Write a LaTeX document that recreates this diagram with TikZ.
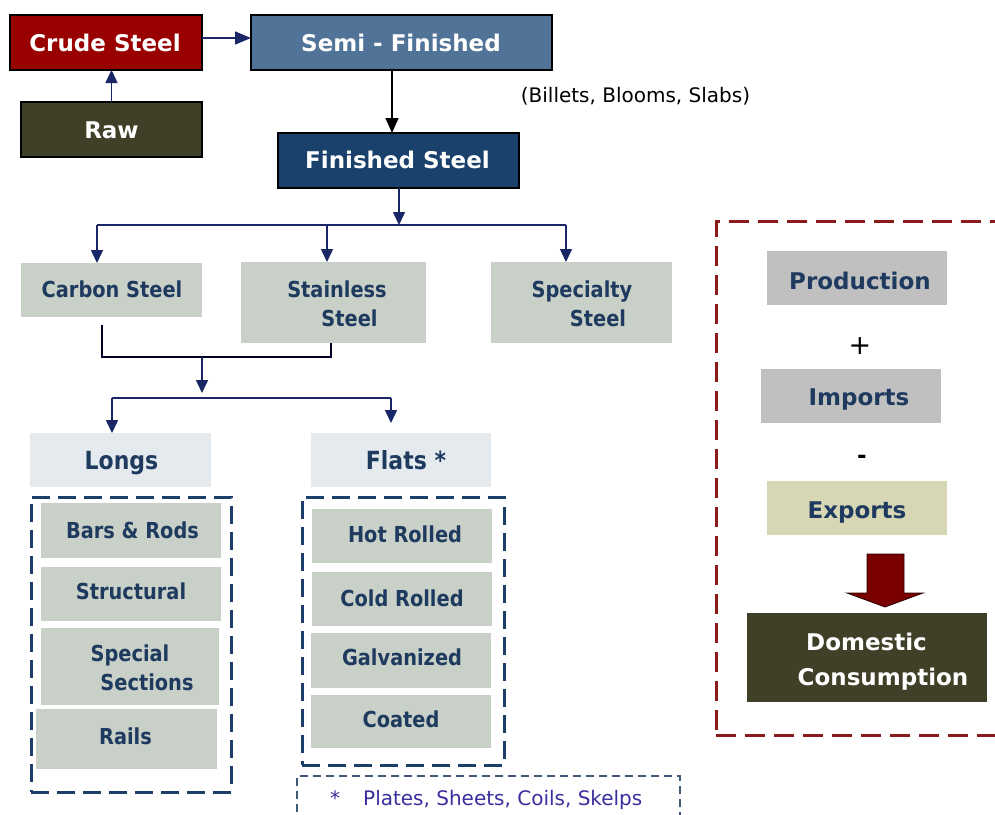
\documentclass[tikz,border=0pt]{standalone}
\usepackage{fontspec}
\setmainfont{DejaVu Sans}
\newfontfamily\tah[FakeStretch=0.88]{DejaVu Sans}
\usetikzlibrary{arrows.meta}
\definecolor{crudec}{HTML}{990000}
\definecolor{semic}{HTML}{527398}
\definecolor{finc}{HTML}{1A416B}
\definecolor{rawc}{HTML}{403F27}
\definecolor{grayg}{HTML}{C8D0C7}
\definecolor{lightb}{HTML}{E5EAEE}
\definecolor{prodc}{HTML}{C0C0C0}
\definecolor{expc}{HTML}{D7D6B5}
\definecolor{txtnavy}{HTML}{1E3A5F}
\definecolor{arrnavy}{HTML}{1A2766}
\definecolor{dashnavyc}{HTML}{1B3F6A}
\definecolor{dashredc}{HTML}{8B1A1A}
\definecolor{bigarr}{HTML}{7A0000}
\definecolor{notec}{HTML}{3A2F9E}
\definecolor{notebox}{HTML}{3E5A78}
\newcommand\mkbox[6]{\node[#6, anchor=north west, minimum width={#4pt-#2pt}, minimum height={#5pt-#3pt}] (#1) at (#2,#3) {};}
\begin{document}
\begin{tikzpicture}[x=1pt,y=-1pt,
  boxs/.style={rectangle, inner sep=0pt, outer sep=0pt},
  darkbox/.style={boxs, draw=black, line width=1.5pt},
  flatbox/.style={boxs, fill=#1},
  dashnavy/.style={boxs, draw=dashnavyc, line width=3pt, dash pattern=on 18pt off 8pt},
  dashred/.style={boxs, draw=dashredc, line width=3pt, dash pattern=on 20pt off 9pt},
  dashnote/.style={boxs, draw=notebox, line width=1.5pt, dash pattern=on 8pt off 5pt},
  ttl/.style={text=white, font=\fontsize{23}{28}\selectfont\bfseries, anchor=base, inner sep=0pt},
  gtxt/.style={text=txtnavy, font=\tah\fontsize{22}{26}\selectfont\bfseries, anchor=base, inner sep=0pt},
  ltxt/.style={text=txtnavy, font=\tah\fontsize{25}{30}\selectfont\bfseries, anchor=base, inner sep=0pt},
  rtxt/.style={text=txtnavy, font=\fontsize{23}{28}\selectfont\bfseries, anchor=base, inner sep=0pt},
  arr/.style={draw=arrnavy, line width=1.5pt, -{Triangle[length=13pt,width=12pt]}},
  ln/.style={draw=arrnavy, line width=1.5pt},
  mrg/.style={draw=black!85!blue, line width=1.2pt},
]
\useasboundingbox (0,0) rectangle (995,814);
\clip (0,0) rectangle (995,814);
\fill[white] (0,0) rectangle (995,814);

% top chain
\mkbox{crude}{10}{15}{202}{70}{darkbox, fill=crudec}
\mkbox{semi}{251}{15}{552}{70}{darkbox, fill=semic}
\mkbox{raw}{21}{102}{202}{157}{darkbox, fill=rawc}
\mkbox{finished}{278}{133}{519}{188}{darkbox, fill=finc}

% steel types
\mkbox{carbon}{21}{263}{202}{317}{flatbox=grayg}
\mkbox{stainless}{241}{262}{426}{343}{flatbox=grayg}
\mkbox{specialty}{491}{262}{672}{343}{flatbox=grayg}

% longs / flats
\mkbox{longs}{30}{433}{211}{487}{flatbox=lightb}
\mkbox{flats}{311}{433}{491}{487}{flatbox=lightb}
\mkbox{longsgrp}{31}{497}{231}{792}{dashnavy}
\mkbox{flatsgrp}{302}{497}{504}{765}{dashnavy}
\mkbox{bars}{41}{503}{221}{558}{flatbox=grayg}
\mkbox{structural}{41}{567}{221}{621}{flatbox=grayg}
\mkbox{special}{41}{628}{219}{705}{flatbox=grayg}
\mkbox{rails}{36}{709}{217}{769}{flatbox=grayg}
\mkbox{hot}{312}{509}{492}{563}{flatbox=grayg}
\mkbox{cold}{312}{572}{492}{626}{flatbox=grayg}
\mkbox{galv}{311}{633}{491}{688}{flatbox=grayg}
\mkbox{coated}{311}{695}{491}{748}{flatbox=grayg}
\mkbox{note}{297}{776}{680}{840}{dashnote}

% right panel
\mkbox{consgrp}{716}{221}{1012}{735}{dashred}
\mkbox{prod}{767}{251}{947}{305}{flatbox=prodc}
\mkbox{imp}{761}{369}{941}{423}{flatbox=prodc}
\mkbox{exp}{767}{481}{947}{535}{flatbox=expc}
\mkbox{dom}{747}{613}{987}{702}{flatbox=rawc}

% helper coordinates
\coordinate (xa) at (392,0);
\coordinate (hubA) at (399,225);
\coordinate (cA) at (97,0);
\coordinate (sA) at (327,0);
\coordinate (pA) at (566,0);
\coordinate (cB) at (102,0);
\coordinate (sB) at (331,0);
\coordinate (hubB) at (202,357);
\coordinate (hubC) at (202,398);
\coordinate (lA) at (112,0);
\coordinate (fA) at (391,0);

% connectors
\draw[arr] (raw.north) -- (raw.north |- crude.south);
\draw[arr, -{Triangle[length=16pt,width=13pt]}] ([yshift=4.5pt]crude.east) -- ([yshift=4.5pt]crude.east -| semi.west);
\draw[black, line width=1.5pt, -{Triangle[length=15pt,width=13pt]}] (semi.south -| xa) -- (finished.north -| xa);
\draw[arr] (finished.south -| hubA) -- (hubA);
\draw[ln] (cA |- hubA) -- (pA |- hubA);
\draw[arr] (cA |- hubA) -- (cA |- carbon.north);
\draw[arr] (sA |- hubA) -- (sA |- stainless.north);
\draw[arr] (pA |- hubA) -- (pA |- specialty.north);
\draw[mrg] ([yshift=-8pt]carbon.south -| cB) -- (cB |- hubB) -- (sB |- hubB) -- (stainless.south -| sB);
\draw[arr, shorten >=5pt] (hubB) -- (hubC);
\draw[ln] (lA |- hubC) -- (fA |- hubC);
\draw[arr] (lA |- hubC) -- (lA |- longs.north);
\draw[arr, shorten >=10pt] (fA |- hubC) -- (fA |- flats.north);

% big arrow
\filldraw[fill=bigarr, draw=black!70!bigarr, line width=0.8pt]
  (867,554) -- (904,554) -- (904,593) -- (923,593) -- (885,607) -- (847,593) -- (867,593) -- cycle;

% texts
\node[ttl] (tcrude) at (105,51) {Crude Steel};
\node[ttl] (tsemi) at (401,51) {Semi - Finished};
\node[ttl] (traw) at (111.5,138) {Raw};
\node[ttl] (tfin) at (397.5,168) {Finished Steel};
\node[text=black, font=\fontsize{20}{24}\selectfont, anchor=base, inner sep=0pt] (tbil) at (635.5,102) {(Billets, Blooms, Slabs)};

\node[gtxt] (tcarbon) at (112,297) {Carbon Steel};
\node[gtxt] (tstain1) at (337,297) {Stainless};
\node[gtxt] (tstain2) at (349.5,326) {Steel};
\node[gtxt] (tspec1) at (582,297) {Specialty};
\node[gtxt] (tspec2) at (598,326) {Steel};

\node[ltxt] (tlongs) at (121.5,469) {Longs};
\node[ltxt] (tflats) at (406,469) {Flats *};

\node[gtxt] (tbars) at (132.5,538) {Bars \& Rods};
\node[gtxt] (tstruct) at (131,599) {Structural};
\node[gtxt] (tspc1) at (130,661) {Special};
\node[gtxt] (tspc2) at (147,690.5) {Sections};
\node[gtxt] (trails) at (125.5,744) {Rails};
\node[gtxt] (thot) at (405,542) {Hot Rolled};
\node[gtxt] (tcold) at (402,606) {Cold Rolled};
\node[gtxt] (tgalv) at (402,665.5) {Galvanized};
\node[gtxt] (tcoat) at (401,727.5) {Coated};

\node[text=notec, font=\fontsize{20}{24}\selectfont, anchor=base, inner sep=0pt] (tstar) at (335,805) {*};
\node[text=notec, font=\fontsize{20}{24}\selectfont, anchor=base west, inner sep=0pt] (tnote) at (363,805) {Plates, Sheets, Coils, Skelps};

\node[rtxt] (tprod) at (860,289.5) {Production};
\node[text=black, font=\fontsize{27}{30}\selectfont, anchor=base, inner sep=0pt] (tplus) at (860,354) {+};
\node[rtxt] (timp) at (859,405) {Imports};
\node[text=black, font=\fontsize{23}{28}\selectfont\bfseries, anchor=base, inner sep=0pt] (tminus) at (862,463) {-};
\node[rtxt] (texp) at (857,518.5) {Exports};
\node[ttl] (tdom1) at (866.5,650) {Domestic};
\node[ttl] (tdom2) at (883,685) {Consumption};
\end{tikzpicture}
\end{document}
